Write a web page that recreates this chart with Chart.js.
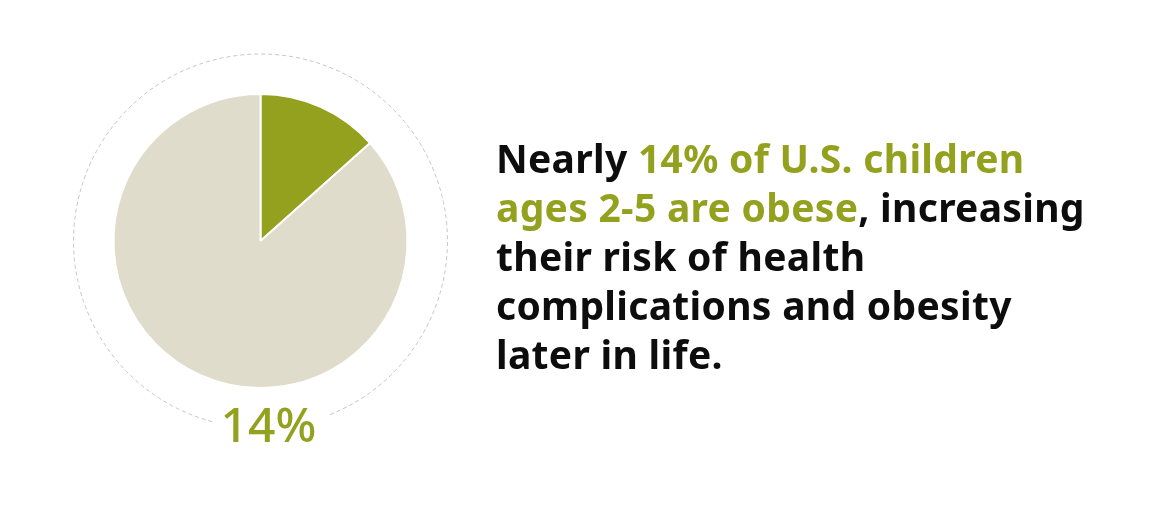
<!DOCTYPE html>
<html>
<head>
<meta charset="utf-8">
<script src="https://cdn.jsdelivr.net/npm/chart.js@4/dist/chart.umd.min.js"></script>
<style>
  html, body { margin: 0; padding: 0; background: #ffffff; }
  #wrap { position: relative; width: 1152px; height: 509px; overflow: hidden; }
  #chart { position: absolute; left: 0; top: 0; width: 1152px; height: 509px; }
  #text {
    position: absolute; left: 496px; top: 133px;
    font-family: "Noto Sans", sans-serif; font-weight: 700;
    font-size: 39px; line-height: 49px; color: #0d0d0d;
    white-space: nowrap; letter-spacing: 0.3px;
  }
  #text .hl { color: #93a11f; }
</style>
</head>
<body>
<div id="wrap">
  <canvas id="chart" width="1152" height="509"></canvas>
  <div id="text">Nearly <span class="hl">14% of U.S. children</span><br><span class="hl">ages 2-5 are obese</span>, increasing<br>their risk of health<br>complications and obesity<br>later in life.</div>
</div>
<script>
const categories = ["Obese children ages 2-5", "Other children ages 2-5"];
const values = [13.4, 86.6];
const sliceColors = ["#93a11f", "#dfdccb"];
const centerLabel = "14%";

const ringPlugin = {
  id: 'ringPlugin',
  afterDatasetsDraw(chart) {
    const arc = chart.getDatasetMeta(0).data[0];
    if (!arc) return;
    const ctx = chart.ctx;
    const cx = arc.x, cy = arc.y;
    const r = arc.outerRadius * 1.272;
    ctx.save();
    ctx.strokeStyle = '#c4c4c4';
    ctx.lineWidth = 1;
    ctx.setLineDash([4, 3]);
    ctx.beginPath();
    ctx.arc(cx, cy, r, 105 * Math.PI / 180, (69 + 360) * Math.PI / 180);
    ctx.stroke();
    ctx.setLineDash([]);
    ctx.fillStyle = '#93a11f';
    ctx.font = '500 48px "Noto Sans", sans-serif';
    ctx.textAlign = 'center';
    ctx.textBaseline = 'alphabetic';
    ctx.fillText(centerLabel, cx + 8, cy + 201);
    ctx.restore();
  }
};

new Chart(document.getElementById('chart'), {
  type: 'pie',
  data: {
    labels: categories,
    datasets: [{
      data: values,
      backgroundColor: sliceColors,
      borderColor: '#ffffff',
      borderWidth: 2,
      hoverOffset: 0
    }]
  },
  options: {
    responsive: false,
    animation: false,
    layout: { padding: { left: 112.5, right: 743.5, top: 93, bottom: 120 } },
    plugins: {
      legend: { display: false },
      tooltip: { enabled: false }
    }
  },
  plugins: [ringPlugin]
});
</script>
</body>
</html>
